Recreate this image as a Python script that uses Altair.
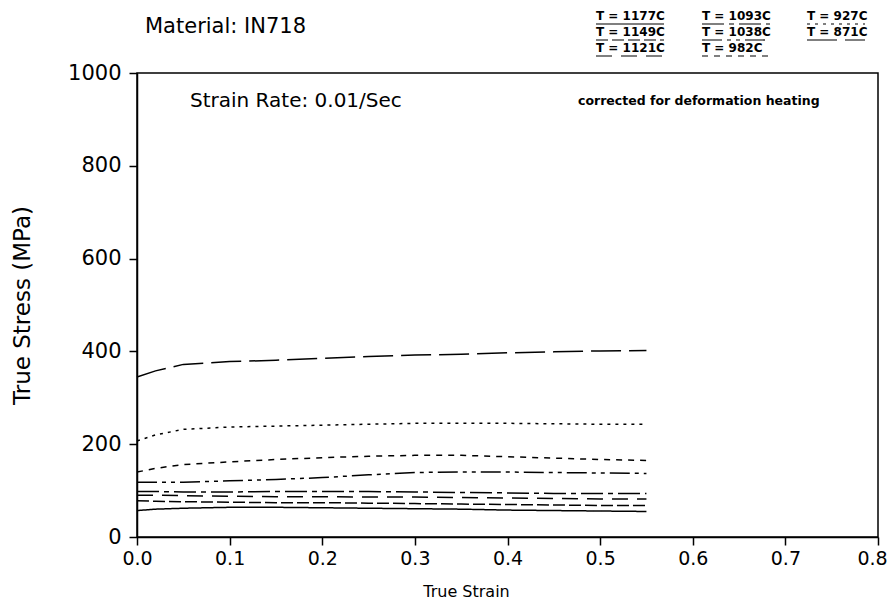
import altair as alt
import pandas as pd

strain = [0, 0.02, 0.05, 0.1, 0.15, 0.2, 0.25, 0.3, 0.35, 0.4, 0.45, 0.5, 0.55]
s871 = [345, 358, 372, 378, 381, 385, 389, 392, 394, 397, 399, 401, 402]
s927 = [207, 220, 232, 237, 239, 241, 243, 245, 245, 245, 244, 243, 243]
s982 = [140, 148, 156, 162, 167, 171, 174, 176, 176, 173, 170, 167, 165]
s1038 = [118, 118, 118, 121, 124, 128, 134, 139, 140, 140, 139, 138, 137]
s1093 = [98, 98, 97, 97, 98, 98, 98, 97, 96, 95, 94, 94, 94]
s1121 = [90, 90, 89, 88, 87, 87, 86, 86, 85, 84, 83, 82, 82]
s1149 = [78, 77, 76, 75, 74, 74, 73, 72, 71, 70, 69, 68, 68]
s1177 = [57, 60, 62, 64, 64, 63, 62, 61, 60, 58, 57, 56, 55]

temps = ["T = 1177C", "T = 1149C", "T = 1121C", "T = 1093C", "T = 1038C",
         "T = 982C", "T = 927C", "T = 871C"]
series = [s1177, s1149, s1121, s1093, s1038, s982, s927, s871]
dashes = [[1, 0], [12, 4], [16, 9], [22, 5, 5, 5], [20, 5, 4, 5, 4, 5],
          [6, 6], [3, 5], [30, 8]]

rows = []
for t, vals in zip(temps, series):
    for x, y in zip(strain, vals):
        rows.append({"temp": t, "strain": x, "stress": y})
df = pd.DataFrame(rows)

FONT = "DejaVu Sans"
W, H = 741, 464

dash_scale = alt.Scale(domain=temps, range=dashes)

lines = alt.Chart(df).mark_line(color="black", strokeWidth=1.5).encode(
    x=alt.X("strain:Q", scale=alt.Scale(domain=[0, 0.8], nice=False),
            axis=alt.Axis(values=[0, 0.1, 0.2, 0.3, 0.4, 0.5, 0.6, 0.7, 0.8],
                          format=".1f", title="True Strain", labelFlush=False,
                          labelOffset={"condition": {"test": "datum.value >= 0.79", "value": -6}, "value": 0},
                          titleX=329, titleY=54, titleAlign="center",
                          titleBaseline="middle", titleFontSize=16)),
    y=alt.Y("stress:Q", scale=alt.Scale(domain=[0, 1000], nice=False),
            axis=alt.Axis(values=[0, 200, 400, 600, 800, 1000], format="d",
                          title="True Stress (MPa)", titleAngle=270,
                          titleX=-115, titleY=232, titleAlign="center",
                          titleBaseline="middle", titleFontSize=23,
                          labelFlush=False)),
    strokeDash=alt.StrokeDash("temp:N", scale=dash_scale, legend=None),
    detail="temp:N",
)

layers = [lines]

# texts
layers.append(alt.Chart(pd.DataFrame({"t": ["Material: IN718"]})).mark_text(
    align="left", baseline="middle", fontSize=21, font=FONT, color="black"
).encode(text="t:N", x=alt.value(8), y=alt.value(-46)))
layers.append(alt.Chart(pd.DataFrame({"t": ["Strain Rate: 0.01/Sec"]})).mark_text(
    align="left", baseline="middle", fontSize=20, font=FONT, color="black"
).encode(text="t:N", x=alt.value(53), y=alt.value(28)))
layers.append(alt.Chart(pd.DataFrame({"t": ["corrected for deformation heating"]})).mark_text(
    align="left", baseline="middle", fontSize=12.5, fontWeight="bold", font=FONT, color="black"
).encode(text="t:N", x=alt.value(441), y=alt.value(28)))

# custom legend (label with styled underline)
col_x = [459, 565, 670]
row_y = [-57, -41, -25]
for i, (t, d) in enumerate(zip(temps, dashes)):
    c, r = divmod(i, 3)
    lx = col_x[c]
    ly = row_y[r]
    wid = 68 if c < 2 else 58
    layers.append(alt.Chart(pd.DataFrame({"t": [t]})).mark_text(
        align="left", baseline="middle", fontSize=12, fontWeight="bold",
        font=FONT, color="black"
    ).encode(text="t:N", x=alt.value(lx), y=alt.value(ly)))
    layers.append(alt.Chart(pd.DataFrame({"t": [t]})).mark_rule(
        color="black", strokeWidth=1.2, strokeDash=d
    ).encode(x=alt.value(lx), x2=alt.value(lx + wid), y=alt.value(ly + 8)))

chart = alt.layer(*layers).properties(
    width=W, height=H,
    autosize=alt.AutoSizeParams(type="none"),
    padding={"left": 129, "top": 65, "right": 10, "bottom": 63},
).configure_view(
    stroke="black", strokeWidth=1.5
).configure_axis(
    grid=False, domainColor="black", domainWidth=1.5, tickColor="black",
    tickWidth=1.5, tickSize=8, labelFont=FONT, titleFont=FONT,
    labelColor="black", titleColor="black", titleFontWeight="normal",
    labelFontSize=19,
).configure_axisY(
    labelPadding=8, labelFontSize=21
).configure_axisX(
    labelPadding=4
)

chart.save("out.html", embed_options={"renderer": "svg", "actions": False})
